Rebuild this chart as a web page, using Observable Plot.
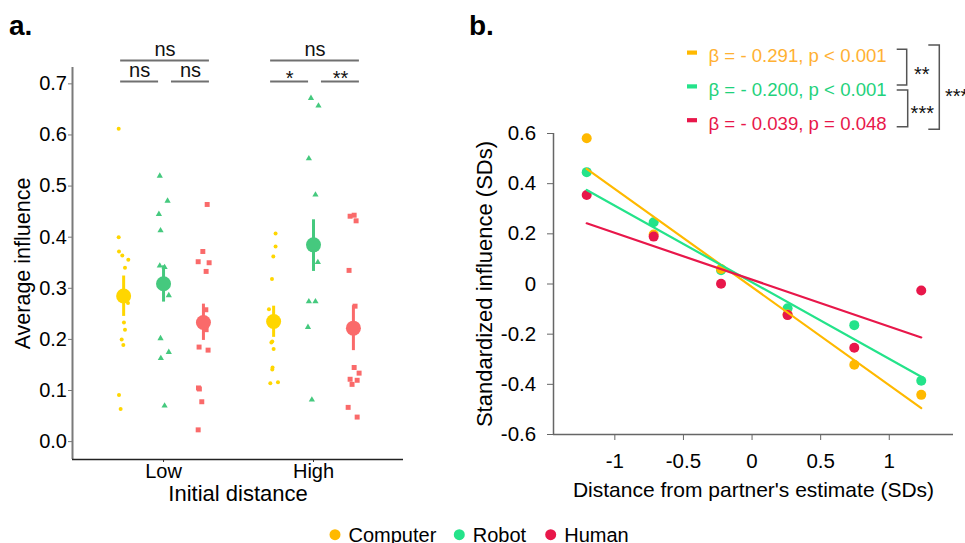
<!DOCTYPE html>
<html>
<head>
<meta charset="utf-8">
<script src="https://cdn.jsdelivr.net/npm/d3@7"></script>
<script src="https://cdn.jsdelivr.net/npm/@observablehq/plot@0.6"></script>
<style>
  body { margin: 0; background: #fff; }
  #root { position: relative; width: 965px; height: 543px; overflow: hidden;
          font-family: "Liberation Sans", Arial, sans-serif; color: #000; background: #fff; }
  #a, #b { position: absolute; top: 0; }
  #a { left: 0; }
  #b { left: 470px; }
  #overlay { position: absolute; left: 0; top: 0; pointer-events: none; }
  #a g[aria-label="y-axis tick"], #a g[aria-label="y-axis tick"] * { stroke: #777; }
  #b g[aria-label="y-axis tick"], #b g[aria-label="y-axis tick"] *,
  #b g[aria-label="x-axis tick"], #b g[aria-label="x-axis tick"] * { stroke: #666; }
  #a g[aria-label="x-axis tick"], #a g[aria-label="x-axis tick"] * { stroke: #333; }
</style>
</head>
<body>
<div id="root">
  <div id="a"></div>
  <div id="b"></div>
  <svg id="overlay" width="965" height="543"></svg>
</div>
<script>
// ---------------- DATA ----------------
const distances = ["Low", "High"];
const agents = ["Computer", "Robot", "Human"];

// Panel a: individual participant averages (value) and horizontal jitter (category units)
const lowComputer       = [0.612, 0.400, 0.372, 0.364, 0.356, 0.340, 0.271, 0.233, 0.219, 0.200, 0.189, 0.091, 0.064];
const lowComputerJitter = [-0.033, -0.033, -0.031, -0.009, 0.031, 0.009, 0.029, 0.002, 0.009, -0.013, -0.002, -0.031, -0.020];
const lowRobot          = [0.520, 0.471, 0.445, 0.413, 0.344, 0.341, 0.286, 0.202, 0.175, 0.163, 0.070];
const lowRobotJitter    = [-0.025, 0.027, -0.031, -0.020, -0.025, 0.007, 0.035, -0.020, 0.035, -0.018, 0.007];
const lowHuman          = [0.464, 0.372, 0.352, 0.350, 0.333, 0.258, 0.219, 0.185, 0.179, 0.105, 0.103, 0.078, 0.023];
const lowHumanJitter    = [0.025, -0.004, -0.035, 0.038, 0.018, 0.016, 0.018, -0.029, 0.031, -0.033, -0.027, -0.011, -0.035];
const highComputer       = [0.407, 0.382, 0.362, 0.318, 0.259, 0.196, 0.194, 0.181, 0.145, 0.141, 0.114, 0.116];
const highComputerJitter = [0.013, 0.013, -0.002, -0.011, -0.031, -0.009, -0.015, 0.000, -0.007, -0.009, -0.022, 0.029];
const highRobot          = [0.672, 0.657, 0.554, 0.483, 0.351, 0.274, 0.274, 0.224, 0.082];
const highRobotJitter    = [-0.017, 0.033, -0.031, 0.013, 0.029, -0.031, 0.013, -0.037, -0.011];
const highHuman          = [0.441, 0.443, 0.432, 0.335, 0.265, 0.145, 0.134, 0.122, 0.120, 0.112, 0.067, 0.048];
const highHumanJitter    = [-0.022, 0.005, 0.018, -0.029, 0.011, 0.005, 0.038, -0.022, 0.025, -0.009, -0.035, 0.025];

// Panel a: group means and error bar limits (Computer, Robot, Human)
const meanLow   = [0.285, 0.309, 0.233];
const lowerLow  = [0.245, 0.273, 0.198];
const upperLow  = [0.324, 0.344, 0.269];
const meanHigh  = [0.235, 0.385, 0.222];
const lowerHigh = [0.204, 0.333, 0.178];
const upperHigh = [0.265, 0.434, 0.266];

// Panel a: significance brackets
const bracketDistance = ["Low", "Low", "Low", "High", "High", "High"];
const bracketFrom     = ["Computer", "Computer", "Robot", "Computer", "Computer", "Robot"];
const bracketTo       = ["Human", "Robot", "Human", "Human", "Robot", "Human"];
const bracketLabel    = ["ns", "ns", "ns", "ns", "*", "**"];

// Panel a ticks
const yTicksA = [0, 0.1, 0.2, 0.3, 0.4, 0.5, 0.6, 0.7];
const yTickLabelsA = ["0.0", "0.1", "0.2", "0.3", "0.4", "0.5", "0.6", "0.7"];
const xTicksA = [1, 2];
const xTickLabelsA = ["Low", "High"];

// Panel b: binned distance (SDs) and standardized influence per agent
const binX = [-1.205, -0.717, -0.226, 0.259, 0.745, 1.233];
const computerB = [0.581, 0.197, 0.060, -0.122, -0.322, -0.442];
const robotB    = [0.446, 0.246, 0.055, -0.097, -0.164, -0.386];
const humanB    = [0.355, 0.189, 0.001, -0.124, -0.254, -0.026];
// Panel b: fitted regression lines (value at first and last bin)
const fitX = [-1.205, 1.233];
const fitComputer = [0.459, -0.495];
const fitRobot    = [0.375, -0.370];
const fitHuman    = [0.242, -0.213];
// Panel b: regression statistics
const statLabels = ["β = - 0.291, p < 0.001", "β = - 0.200, p < 0.001", "β = - 0.039, p = 0.048"];
const statStars = ["**", "***", "***"]; // Computer–Robot, Robot–Human, Computer–Human

// Panel b ticks
const yTicksB = [-0.6, -0.4, -0.2, 0, 0.2, 0.4, 0.6];
const yTickLabelsB = ["-0.6", "-0.4", "-0.2", "0", "0.2", "0.4", "0.6"];
const xTicksB = [-1, -0.5, 0, 0.5, 1];
const xTickLabelsB = ["-1", "-0.5", "0", "0.5", "1"];

// ---------------- STYLE ----------------
const colorA = {Computer: "#FFD600", Robot: "#45C97E", Human: "#FA6A6A"};
const colorB = {Computer: "#FFB900", Robot: "#24E38A", Human: "#E8174A"};
const statTextColor = ["#FFB133", "#1FD27C", "#E8174A"];
const symbolA = {Computer: "circle", Robot: "triangle", Human: "square"};
const rA = {Computer: 2, Robot: 2.3, Human: 2.8};
const FONT = "Liberation Sans, Arial, sans-serif";

const fmt = (ticks, labels) => d => labels[ticks.findIndex(t => Math.abs(t - d) < 1e-9)];

// ---------------- PANEL A ----------------
const groupOffset = 0.266;
const pos = (d, a) => distances.indexOf(d) + 1 + (agents.indexOf(a) - 1) * groupOffset;

const rawA = {
  Low:  {Computer: [lowComputer, lowComputerJitter], Robot: [lowRobot, lowRobotJitter], Human: [lowHuman, lowHumanJitter]},
  High: {Computer: [highComputer, highComputerJitter], Robot: [highRobot, highRobotJitter], Human: [highHuman, highHumanJitter]}
};
const pointsA = [];
for (const d of distances) for (const a of agents) {
  const [vals, jit] = rawA[d][a];
  vals.forEach((v, i) => pointsA.push({distance: d, agent: a, value: v, x: pos(d, a) + jit[i]}));
}
const meansA = [];
agents.forEach((a, i) => {
  meansA.push({distance: "Low", agent: a, mean: meanLow[i], lo: lowerLow[i], hi: upperLow[i], x: pos("Low", a)});
  meansA.push({distance: "High", agent: a, mean: meanHigh[i], lo: lowerHigh[i], hi: upperHigh[i], x: pos("High", a)});
});
const bracketsA = bracketDistance.map((d, i) => {
  const f = bracketFrom[i], t = bracketTo[i];
  const x1 = pos(d, f) + (f === "Robot" ? 0.053 : -0.02);
  const x2 = pos(d, t) + (t === "Robot" ? -0.033 : 0.04);
  return {x1, x2, xm: (x1 + x2) / 2, label: bracketLabel[i], top: f === "Computer" && t === "Human", star: bracketLabel[i].includes("*")};
});

const yDomA = [-0.035, 0.732];
const xDomA = [0.393, 2.6];

const plotA = Plot.plot({
  width: 470, height: 510,
  marginTop: 67, marginBottom: 51, marginLeft: 72, marginRight: 67,
  style: {fontFamily: FONT, fontSize: "20px", background: "transparent", color: "#000", overflow: "visible"},
  x: {domain: xDomA, ticks: xTicksA, tickFormat: fmt(xTicksA, xTickLabelsA), tickSize: 3, tickPadding: 1.5, label: null},
  y: {domain: yDomA, ticks: yTicksA, tickFormat: fmt(yTicksA, yTickLabelsA), tickSize: 4, tickPadding: 1.5, label: null},
  marks: [
    Plot.ruleX([xDomA[0]], {stroke: "#7a7a7a", strokeWidth: 2}),
    Plot.ruleY([yDomA[0]], {stroke: "#222", strokeWidth: 1.5}),
    ...agents.map(a => Plot.dot(pointsA.filter(p => p.agent === a), {
      x: "x", y: "value", r: rA[a], symbol: symbolA[a], fill: colorA[a], stroke: "none"
    })),
    ...agents.map(a => Plot.ruleX(meansA.filter(m => m.agent === a), {
      x: "x", y1: "lo", y2: "hi", stroke: colorA[a], strokeWidth: 3
    })),
    ...agents.map(a => Plot.dot(meansA.filter(m => m.agent === a), {
      x: "x", y: "mean", r: 7.5, fill: colorA[a], stroke: "none"
    })),
    // significance brackets
    Plot.ruleY(bracketsA.filter(b => b.top), {x1: "x1", x2: "x2", y: yDomA[1], dy: -7, stroke: "#707070", strokeWidth: 2}),
    Plot.ruleY(bracketsA.filter(b => !b.top), {x1: "x1", x2: "x2", y: yDomA[1], dy: 14, stroke: "#707070", strokeWidth: 2}),
    Plot.text(bracketsA.filter(b => b.top), {x: "xm", y: yDomA[1], dy: -18.4, text: "label", fontSize: 20, fill: "#111", lineAnchor: "middle"}),
    Plot.text(bracketsA.filter(b => !b.top && !b.star), {x: "xm", y: yDomA[1], dy: 3.3, text: "label", fontSize: 20, fill: "#111", lineAnchor: "middle"}),
    Plot.text(bracketsA.filter(b => b.star), {x: "xm", y: yDomA[1], dy: 11.5, text: "label", fontSize: 20, fill: "#111", lineAnchor: "middle"}),
    // axis titles
    Plot.text(["Average influence"], {frameAnchor: "left", textAnchor: "middle", lineAnchor: "middle", rotate: -90, dx: -49, fontSize: 21.5, fill: "#000"}),
    Plot.text(["Initial distance"], {frameAnchor: "bottom", textAnchor: "middle", lineAnchor: "middle", dy: 34.5, fontSize: 22, fill: "#000"})
  ]
});
document.getElementById("a").appendChild(plotA);

// ---------------- PANEL B ----------------
const seriesB = {Computer: computerB, Robot: robotB, Human: humanB};
const fitsB = {Computer: fitComputer, Robot: fitRobot, Human: fitHuman};
const xDomB = [-1.447, 1.468];
const yDomB = [-0.6, 0.6];
const dotOrder = ["Robot", "Computer", "Human"];

const plotB = Plot.plot({
  width: 495, height: 510,
  marginTop: 133, marginBottom: 76, marginLeft: 83, marginRight: 12,
  style: {fontFamily: FONT, fontSize: "20.5px", background: "transparent", color: "#000", overflow: "visible"},
  x: {domain: xDomB, ticks: xTicksB, tickFormat: fmt(xTicksB, xTickLabelsB), tickSize: 6, tickPadding: 12.5, label: null},
  y: {domain: yDomB, ticks: yTicksB, tickFormat: fmt(yTicksB, yTickLabelsB), tickSize: 6, tickPadding: 11.3, label: null},
  marks: [
    Plot.ruleX([xDomB[0]], {stroke: "#666", strokeWidth: 1.5}),
    Plot.ruleY([yDomB[0]], {stroke: "#666", strokeWidth: 1.5}),
    ...dotOrder.map(a => Plot.dot(binX.map((x, i) => ({x, y: seriesB[a][i]})), {
      x: "x", y: "y", r: 5, fill: colorB[a], stroke: "none"
    })),
    ...agents.map(a => Plot.line(fitX.map((x, i) => ({x, y: fitsB[a][i]})), {
      x: "x", y: "y", stroke: colorB[a], strokeWidth: 2.2
    })),
    Plot.text(["Standardized influence (SDs)"], {frameAnchor: "left", textAnchor: "middle", lineAnchor: "middle", rotate: -90, dx: -69, fontSize: 22, fill: "#000"}),
    Plot.text(["Distance from partner's estimate (SDs)"], {frameAnchor: "bottom", textAnchor: "middle", lineAnchor: "middle", dy: 56, fontSize: 21, fill: "#000"})
  ]
});
document.getElementById("b").appendChild(plotB);

// ---------------- OVERLAY: panel tags, statistics legend, legend ----------------
const svg = d3.select("#overlay").style("font-family", FONT);
svg.append("text").attr("x", 9).attr("y", 34.5).attr("font-size", 28).attr("font-weight", "bold").text("a.");
svg.append("text").attr("x", 469).attr("y", 34.5).attr("font-size", 28).attr("font-weight", "bold").text("b.");

// statistics legend
statLabels.forEach((s, i) => {
  const base = 62.3 + i * 33.8;
  svg.append("rect").attr("x", 687).attr("y", base - 11.8).attr("width", 10).attr("height", 4.2).attr("fill", colorB[agents[i]]);
  svg.append("text").attr("x", 708.5).attr("y", base).attr("font-size", 18.6).attr("fill", statTextColor[i]).text(s);
});
// brackets between regression slopes
const br = [
  {x: 906.7, y1: 49.3, y2: 85, w: 10, lx: 921.7, ly: 80.9, anchor: "middle", label: statStars[0]},
  {x: 907.7, y1: 90, y2: 126.7, w: 11, lx: 922.3, ly: 119.9, anchor: "middle", label: statStars[1]},
  {x: 939.3, y1: 45, y2: 129.3, w: 11, lx: 945, ly: 103.3, anchor: "start", label: statStars[2]}
];
br.forEach(b => {
  svg.append("path").attr("d", `M${b.x - b.w},${b.y1}H${b.x}V${b.y2}H${b.x - b.w}`)
    .attr("fill", "none").attr("stroke", "#555").attr("stroke-width", 1.5);
  svg.append("text").attr("x", b.lx).attr("y", b.ly).attr("text-anchor", b.anchor)
    .attr("font-size", 20).attr("fill", "#111").text(b.label);
});

// bottom legend
const legX = [335, 459.3, 550.7];
agents.forEach((a, i) => {
  svg.append("circle").attr("cx", legX[i]).attr("cy", 534.7).attr("r", 5.5).attr("fill", colorB[a]);
  svg.append("text").attr("x", legX[i] + 13.5).attr("y", 542).attr("font-size", 20).attr("fill", "#000").text(a);
});
</script>
</body>
</html>
